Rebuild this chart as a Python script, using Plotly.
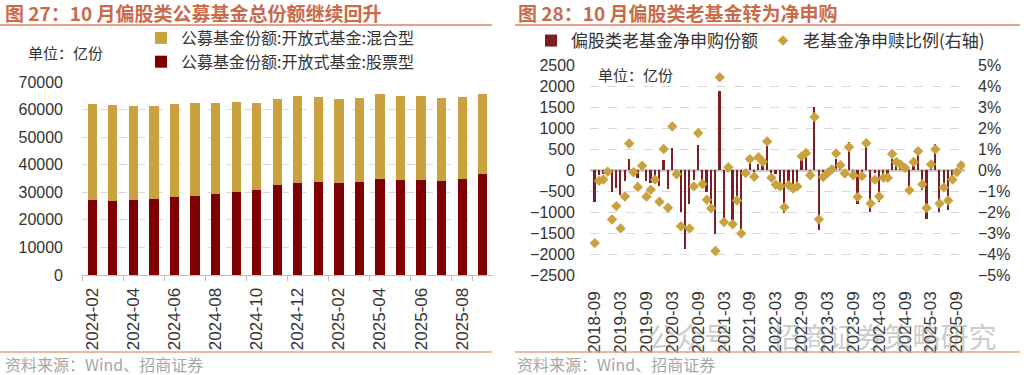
import plotly.graph_objects as go

# ---------------- Left chart data (亿份) ----------------
months1 = ['2024-02', '2024-03', '2024-04', '2024-05', '2024-06', '2024-07', '2024-08',
           '2024-09', '2024-10', '2024-11', '2024-12', '2025-01', '2025-02', '2025-03',
           '2025-04', '2025-05', '2025-06', '2025-07', '2025-08', '2025-09']
stock = [27100, 26900, 27100, 27500, 28300, 28800, 29500, 30200, 31000, 32700,
         33400, 33900, 33200, 33600, 34900, 34400, 34400, 34100, 34900, 36500]
mixed = [34800, 34600, 34300, 33800, 33700, 33450, 33000, 32650, 31350, 31000,
         31400, 30650, 30500, 30700, 30600, 30400, 30400, 30100, 29800, 29000]
ticks1 = ['2024-02', '2024-04', '2024-06', '2024-08', '2024-10', '2024-12',
          '2025-02', '2025-04', '2025-06', '2025-08']

# ---------------- Right chart data ----------------
months2 = ['2018-09', '2018-10', '2018-11', '2018-12',
           '2019-01', '2019-02', '2019-03', '2019-04', '2019-05', '2019-06', '2019-07', '2019-08', '2019-09', '2019-10', '2019-11', '2019-12',
           '2020-01', '2020-02', '2020-03', '2020-04', '2020-05', '2020-06', '2020-07', '2020-08', '2020-09', '2020-10', '2020-11', '2020-12',
           '2021-01', '2021-02', '2021-03', '2021-04', '2021-05', '2021-06', '2021-07', '2021-08', '2021-09', '2021-10', '2021-11', '2021-12',
           '2022-01', '2022-02', '2022-03', '2022-04', '2022-05', '2022-06', '2022-07', '2022-08', '2022-09', '2022-10', '2022-11', '2022-12',
           '2023-01', '2023-02', '2023-03', '2023-04', '2023-05', '2023-06', '2023-07', '2023-08', '2023-09', '2023-10', '2023-11', '2023-12',
           '2024-01', '2024-02', '2024-03', '2024-04', '2024-05', '2024-06', '2024-07', '2024-08', '2024-09', '2024-10', '2024-11', '2024-12',
           '2025-01', '2025-02', '2025-03', '2025-04', '2025-05', '2025-06', '2025-07', '2025-08', '2025-09', '2025-10']
net_sub = [-750, -130, -100, -40, -520, -420, -600, -250, 260, -60, -180, 30,
           -270, -310, -300, -370, 240, -450, 530, -150, -1000, -1880, -800, -245,
           590, -270, -520, -800, -1530, 1880, -1230, -30, -1200, -760, -1480, -20,
           170, -50, 150, 140, 590, -60, -100, -480, -1030, -450, -480, -450,
           320, 400, -30, 1500, -1440, -50, -20, 10, 270, 60, -20, 660,
           -30, -800, -40, 700, -1000, -80, -760, -150, -100, 270, 150, 50,
           20, -560, 190, 520, -480, -1160, 190, 630, -1000, -400, -950, -200,
           -30, 100]
ratio = [-3.48, -0.51, -0.45, -0.08, -2.36, -1.72, -2.78, -1.26, 1.26, -0.11, -0.81, 0.20,
         -1.27, -0.94, -0.46, -1.51, 1.00, -1.80, 2.07, -0.20, -2.68, None, -2.78, -0.78,
         1.76, -0.67, -1.42, -1.82, -3.86, 4.42, -2.48, 0.13, -2.58, -1.45, -3.02, -0.15,
         0.52, -0.32, 0.61, 0.39, 1.36, -0.37, -0.70, -0.79, -1.77, -0.72, -0.88, -0.78,
         0.65, 0.81, -0.25, 2.52, -2.35, -0.33, -0.14, 0.03, 0.79, 0.23, -0.17, 1.09,
         -0.25, -1.28, -0.29, 1.28, -1.59, -0.46, -1.26, -0.37, -0.37, 0.76, 0.38, 0.25,
         0.10, -0.97, 0.38, 0.89, -0.68, -1.81, 0.27, 0.99, -1.60, -0.83, -1.45, -0.45,
         -0.10, 0.22]
ticks2 = ['2018-09', '2019-03', '2019-09', '2020-03', '2020-09', '2021-03', '2021-09',
          '2022-03', '2022-09', '2023-03', '2023-09', '2024-03', '2024-09', '2025-03', '2025-09']

GOLD = '#C9A23F'
DRED = '#7F0000'
BRED = '#7B1F24'
RULE = '#E3A08A'
TITLE = '#C96A4A'
NUMF = 'Liberation Sans, Arial, sans-serif'
CJK = 'Noto Sans CJK SC, sans-serif'

W, H = 1024, 375
def px(x):
    return x / W
def py(y):
    return 1 - y / H

fig = go.Figure()
fig.add_trace(go.Bar(x=months1, y=stock, name='公募基金份额:开放式基金:股票型',
                     marker=dict(color=DRED, line=dict(width=0)), xaxis='x', yaxis='y', legend='legend'))
fig.add_trace(go.Bar(x=months1, y=mixed, name='公募基金份额:开放式基金:混合型',
                     marker=dict(color=GOLD, line=dict(width=0)), xaxis='x', yaxis='y', legend='legend'))
fig.add_trace(go.Bar(x=months2, y=net_sub, name='偏股类老基金净申购份额', width=0.4,
                     marker=dict(color=BRED, line=dict(width=0)), xaxis='x2', yaxis='y2', legend='legend2'))
fig.add_trace(go.Scatter(x=months2, y=ratio, mode='markers', name='老基金净申赎比例(右轴)',
                         marker=dict(symbol='diamond', size=8, color=GOLD),
                         xaxis='x2', yaxis='y3', legend='legend2'))

tickfont = dict(family=NUMF, size=16, color='#333333')
xtickfont = dict(family=NUMF, size=17, color='#333333')
grid = dict(showgrid=True, gridcolor='#d9d9d9', griddash='dash', gridwidth=1)

fig.update_layout(
    width=W, height=H, margin=dict(l=0, r=0, t=0, b=0, autoexpand=False),
    paper_bgcolor='white', plot_bgcolor='white',
    barmode='stack', bargap=0.55,
    font=dict(family=CJK, color='#333333'),
    xaxis=dict(domain=[px(82), px(493)], type='category', range=[-0.5, 19.5],
               tickmode='array', tickvals=ticks1, tickangle=-90, tickfont=xtickfont,
               ticks='outside', tickson='boundaries', ticklen=5, tickcolor='#bfbfbf',
               ticklabelstandoff=5,
               showline=True, linecolor='#bfbfbf', linewidth=1, showgrid=False, anchor='y',
               automargin=False),
    yaxis=dict(domain=[py(275), py(82)], range=[0, 70000], dtick=10000, tickformat='d',
               tickfont=tickfont, zeroline=False, ticklabelstandoff=18, anchor='x',
               automargin=False, **grid),
    xaxis2=dict(domain=[px(590), px(965)], type='category', range=[-1.1, 85.9],
                tickmode='array', tickvals=ticks2, tickangle=-90, tickfont=xtickfont,
                ticks='', showline=False, showgrid=False, anchor='y2', ticklabelstandoff=12,
                automargin=False),
    yaxis2=dict(domain=[py(275), py(65)], range=[-2500, 2500], dtick=500, tickformat='d',
                tickfont=tickfont, zeroline=True, zerolinecolor='#cccccc', zerolinewidth=3,
                ticklabelstandoff=14, anchor='x2', automargin=False, **grid),
    yaxis3=dict(overlaying='y2', side='right', range=[-5, 5], dtick=1, ticksuffix='%',
                tickfont=tickfont, showgrid=False, zeroline=False, ticklabelstandoff=12,
                anchor='x2', automargin=False),
    legend=dict(x=px(141), y=py(21), xanchor='left', yanchor='top', orientation='v',
                traceorder='reversed', font=dict(family=CJK, size=16, color='#333333'),
                bgcolor='rgba(0,0,0,0)', itemwidth=30, tracegroupgap=0),
    legend2=dict(x=px(531), y=py(23), xanchor='left', yanchor='top', orientation='h',
                 traceorder='normal', font=dict(family=CJK, size=17, color='#333333'),
                 bgcolor='rgba(0,0,0,0)', itemwidth=30),
)

annots = [
    dict(x=px(3), y=py(13), text='<b>图 27：10 月偏股类公募基金总份额继续回升</b>',
         font=dict(family=CJK, size=19, color=TITLE)),
    dict(x=px(516), y=py(13), text='<b>图 28：10 月偏股类老基金转为净申购</b>',
         font=dict(family=CJK, size=19, color=TITLE)),
    dict(x=px(26), y=py(53), text='单位：亿份', font=dict(family=CJK, size=15, color='#333333')),
    dict(x=px(596), y=py(74), text='单位：亿份', font=dict(family=CJK, size=15, color='#333333')),
    dict(x=px(3), y=py(364), text='资料来源：Wind、招商证券', font=dict(family=CJK, size=16, color='#a6a6a6')),
    dict(x=px(515), y=py(364), text='资料来源：Wind、招商证券', font=dict(family=CJK, size=16, color='#a6a6a6')),
    dict(x=px(646), y=py(336), text='公众号 · 招商证券策略研究',
         font=dict(family=CJK, size=28, color='rgba(120,120,120,0.4)')),
]
for a in annots:
    a.update(xref='paper', yref='paper', xanchor='left', yanchor='middle', showarrow=False)
fig.update_layout(annotations=annots)

shapes = [
    dict(type='line', x0=0, x1=px(492), y0=py(25), y1=py(25), line=dict(color=RULE, width=2)),
    dict(type='line', x0=px(515), x1=px(1020), y0=py(25), y1=py(25), line=dict(color=RULE, width=2)),
    dict(type='line', x0=0, x1=px(492), y0=py(352), y1=py(352), line=dict(color=RULE, width=1.5)),
    dict(type='line', x0=px(515), x1=px(1020), y0=py(352), y1=py(352), line=dict(color=RULE, width=1.5)),
]
for s in shapes:
    s.update(xref='paper', yref='paper')
fig.update_layout(shapes=shapes)

fig.write_html('out.html', config={'displayModeBar': False},
               post_script="document.body.style.margin='0';document.body.style.overflow='hidden';")
